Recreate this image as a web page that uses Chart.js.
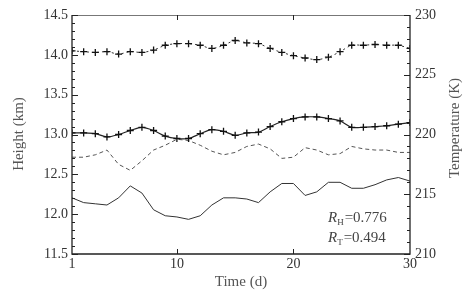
<!DOCTYPE html>
<html>
<head>
<meta charset="utf-8">
<script src="https://cdn.jsdelivr.net/npm/chart.js@4"></script>
<style>
  html, body { margin: 0; padding: 0; background: #fff; }
</style>
</head>
<body>
<canvas id="myChart" width="464" height="294"></canvas>
<script>
const days = [1, 2, 3, 4, 5, 6, 7, 8, 9, 10, 11, 12, 13, 14, 15, 16, 17, 18, 19, 20, 21, 22, 23, 24, 25, 26, 27, 28, 29, 30];

// height series (km), left axis
const heightUpper = [14.05, 14.04, 14.03, 14.04, 14.01, 14.04, 14.03, 14.06, 14.12, 14.14, 14.14, 14.12, 14.08, 14.12, 14.18,
    14.15, 14.14, 14.08, 14.03, 13.99, 13.96, 13.94, 13.97, 14.04, 14.12, 14.12, 14.13, 14.12, 14.12, 14.08];
const heightLower = [13.02, 13.02, 13.01, 12.97, 13.00, 13.05, 13.09, 13.05, 12.98, 12.95, 12.95, 13.01, 13.06, 13.04, 12.99,
    13.02, 13.03, 13.10, 13.16, 13.20, 13.22, 13.22, 13.20, 13.17, 13.09, 13.09, 13.10, 13.11, 13.13, 13.15];

// temperature series (K), right axis
const tempDashed = [218.1, 218.1, 218.3, 218.7, 217.5, 217.0, 217.8, 218.7, 219.1, 219.6, 219.5, 219.1, 218.6, 218.3, 218.5,
    219.0, 219.2, 218.8, 218.0, 218.1, 218.9, 218.7, 218.3, 218.4, 219.0, 218.8, 218.7, 218.7, 218.5, 218.5];
const tempSolid = [214.7, 214.3, 214.2, 214.1, 214.7, 215.7, 215.1, 213.7, 213.2, 213.1, 212.9, 213.2, 214.1, 214.7, 214.7,
    214.6, 214.3, 215.2, 215.9, 215.9, 214.9, 215.2, 216.0, 216.0, 215.5, 215.5, 215.8, 216.2, 216.4, 216.1];

const xTicks = [1, 10, 20, 30];
const corrLabels = [['H', '=0.776'], ['T', '=0.494']];

const serif = '"Liberation Serif", "DejaVu Serif", serif';

function toPoints(values) {
    return values.map((v, i) => ({ x: days[i], y: v }));
}

function drawVertical(ctx, text, x, y) {
    ctx.save();
    ctx.translate(x, y);
    ctx.rotate(-Math.PI / 2);
    ctx.textAlign = 'center';
    ctx.textBaseline = 'middle';
    ctx.fillText(text, 0, 0);
    ctx.restore();
}

// frame, inward ticks, y titles and the correlation text
const framePlugin = {
    id: 'frame',
    afterDraw(chart) {
        const ctx = chart.ctx;
        const a = chart.chartArea;
        const yL = chart.scales.y;
        const yR = chart.scales.y2;
        const x = chart.scales.x;
        ctx.save();
        ctx.lineWidth = 1;
        ctx.strokeStyle = '#777';
        ctx.beginPath();
        ctx.moveTo(a.left, a.top + 0.5);
        ctx.lineTo(a.right, a.top + 0.5);
        ctx.stroke();
        ctx.strokeStyle = '#222';
        ctx.lineWidth = 1.3;
        ctx.beginPath();
        ctx.moveTo(a.left, a.top);
        ctx.lineTo(a.left, a.bottom);
        ctx.lineTo(a.right, a.bottom);
        ctx.lineTo(a.right, a.top);
        ctx.stroke();

        ctx.lineWidth = 1;
        ctx.beginPath();
        for (let i = 0; i <= 30; i++) {
            const v = 11.5 + i * 0.1;
            const p = Math.round(yL.getPixelForValue(v)) + 0.5;
            const len = i % 5 === 0 ? 6 : 3;
            ctx.moveTo(a.left, p);
            ctx.lineTo(a.left + len, p);
        }
        for (let v = 210; v <= 230; v++) {
            const p = Math.round(yR.getPixelForValue(v)) + 0.5;
            const len = v % 5 === 0 ? 6 : 3;
            ctx.moveTo(a.right, p);
            ctx.lineTo(a.right - len, p);
        }
        [10, 20].forEach(v => {
            const p = Math.round(x.getPixelForValue(v)) + 0.5;
            ctx.moveTo(p, a.bottom);
            ctx.lineTo(p, a.bottom - 5);
            ctx.moveTo(p, a.top);
            ctx.lineTo(p, a.top + 5);
        });
        ctx.stroke();

        ctx.fillStyle = '#555';
        ctx.font = '15px ' + serif;
        drawVertical(ctx, 'Height (km)', 19, 134);
        drawVertical(ctx, 'Temperature (K)', 455, 128);

        ctx.fillStyle = '#444';
        ctx.textBaseline = 'alphabetic';
        corrLabels.forEach(([sub, rest], i) => {
            const bx = a.right - 82;
            const by = a.bottom - 32 + i * 20;
            ctx.font = 'italic 15px ' + serif;
            ctx.fillText('R', bx, by);
            const w1 = ctx.measureText('R').width;
            ctx.font = '9px ' + serif;
            ctx.fillText(sub, bx + w1, by + 3);
            const w2 = ctx.measureText(sub).width;
            ctx.font = '15px ' + serif;
            ctx.fillText(rest, bx + w1 + w2 + 1, by);
        });
        ctx.restore();
    }
};

const ctx = document.getElementById('myChart').getContext('2d');

new Chart(ctx, {
    type: 'line',
    data: {
        datasets: [
            {
                data: toPoints(heightUpper),
                yAxisID: 'y',
                borderColor: '#333',
                borderWidth: 1,
                borderDash: [2, 3],
                pointStyle: 'cross',
                pointRadius: 3.5,
                pointBorderWidth: 1.3,
                pointBorderColor: '#111',
                tension: 0.3
            },
            {
                data: toPoints(heightLower),
                yAxisID: 'y',
                borderColor: '#222',
                borderWidth: 1.2,
                pointStyle: 'cross',
                pointRadius: 3.5,
                pointBorderWidth: 1.3,
                pointBorderColor: '#111',
                tension: 0.3
            },
            {
                data: toPoints(tempDashed),
                yAxisID: 'y2',
                borderColor: '#555',
                borderWidth: 1,
                borderDash: [4, 3],
                pointRadius: 0,
                tension: 0
            },
            {
                data: toPoints(tempSolid),
                yAxisID: 'y2',
                borderColor: '#333',
                borderWidth: 1,
                pointRadius: 0,
                tension: 0
            }
        ]
    },
    options: {
        responsive: false,
        animation: false,
        layout: { padding: { top: 15, left: 0, right: 0, bottom: 0 } },
        plugins: {
            legend: { display: false },
            tooltip: { enabled: false }
        },
        scales: {
            x: {
                type: 'linear',
                min: 1,
                max: 30,
                grid: { display: false, drawTicks: false },
                border: { display: false },
                afterBuildTicks: scale => { scale.ticks = xTicks.map(v => ({ value: v })); },
                afterFit: scale => { scale.height = 40; },
                ticks: {
                    color: '#333',
                    padding: 2,
                    maxRotation: 0,
                    font: { family: serif, size: 14 }
                },
                title: {
                    display: true,
                    text: 'Time (d)',
                    color: '#555',
                    padding: { top: 0, bottom: 3 },
                    font: { family: serif, size: 15 }
                }
            },
            y: {
                position: 'left',
                min: 11.5,
                max: 14.5,
                grid: { display: false, drawTicks: false },
                border: { display: false },
                afterFit: scale => { scale.width = 72; },
                ticks: {
                    stepSize: 0.5,
                    color: '#333',
                    padding: 4,
                    font: { family: serif, size: 14 },
                    callback: v => v.toFixed(1)
                }
            },
            y2: {
                position: 'right',
                min: 210,
                max: 230,
                grid: { display: false, drawTicks: false },
                border: { display: false },
                afterFit: scale => { scale.width = 54; },
                ticks: {
                    stepSize: 5,
                    color: '#333',
                    padding: 5,
                    font: { family: serif, size: 14 }
                }
            }
        }
    },
    plugins: [framePlugin]
});
</script>
</body>
</html>
